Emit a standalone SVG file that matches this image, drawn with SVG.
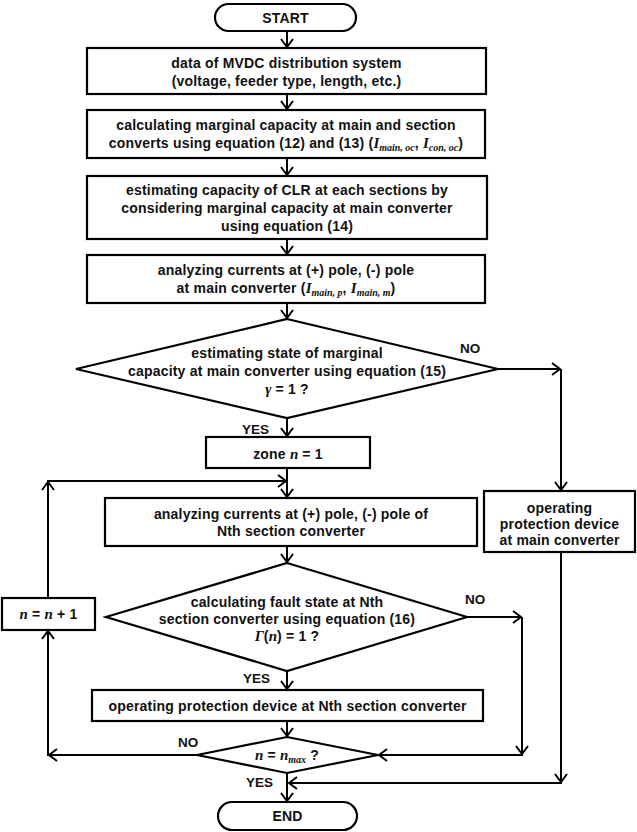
<svg xmlns="http://www.w3.org/2000/svg" width="637" height="832" viewBox="0 0 637 832">
<style>
.n{fill:#fff;stroke:#000;stroke-width:2.2}
.t{font-family:"Liberation Sans",Arial,sans-serif;font-size:14px;font-weight:bold;letter-spacing:0.2px;fill:#111;text-anchor:middle}
.m{font-family:"Liberation Serif","DejaVu Serif",serif;font-style:italic;font-weight:bold;letter-spacing:0}
.s{font-size:10px}
.l{font-family:"Liberation Sans",Arial,sans-serif;font-size:13.5px;font-weight:bold;fill:#111}
.c{fill:none;stroke:#000;stroke-width:2}
</style>
<defs>
<marker id="a" viewBox="0 0 10 14" refX="9" refY="7" markerWidth="10" markerHeight="14" markerUnits="userSpaceOnUse" orient="auto">
<path d="M1,1 L9,7 L1,13" fill="none" stroke="#000" stroke-width="2"/>
</marker>
</defs>
<rect width="637" height="832" fill="#fff"/>
<g id="connectors">
<line class="c" x1="287" y1="31" x2="287" y2="47" marker-end="url(#a)"/>
<line class="c" x1="287" y1="94" x2="287" y2="109" marker-end="url(#a)"/>
<line class="c" x1="287" y1="158" x2="287" y2="175" marker-end="url(#a)"/>
<line class="c" x1="287" y1="239" x2="287" y2="254" marker-end="url(#a)"/>
<line class="c" x1="287" y1="303" x2="287" y2="318" marker-end="url(#a)"/>
<line class="c" x1="498" y1="369" x2="560" y2="369" marker-end="url(#a)"/>
<line class="c" x1="561" y1="369" x2="561" y2="490" marker-end="url(#a)"/>
<line class="c" x1="287" y1="418" x2="287" y2="436" marker-end="url(#a)"/>
<line class="c" x1="287" y1="468" x2="287" y2="497" marker-end="url(#a)"/>
<line class="c" x1="48" y1="598" x2="48" y2="482" marker-end="url(#a)"/>
<line class="c" x1="47" y1="481" x2="286" y2="481" marker-end="url(#a)"/>
<line class="c" x1="287" y1="546" x2="287" y2="562" marker-end="url(#a)"/>
<line class="c" x1="467" y1="617" x2="521" y2="617" marker-end="url(#a)"/>
<line class="c" x1="522" y1="617" x2="522" y2="754" marker-end="url(#a)"/>
<line class="c" x1="523" y1="755" x2="379" y2="755" marker-end="url(#a)"/>
<line class="c" x1="287" y1="671" x2="287" y2="689" marker-end="url(#a)"/>
<line class="c" x1="287" y1="721" x2="287" y2="736" marker-end="url(#a)"/>
<line class="c" x1="197" y1="755" x2="49" y2="755" marker-end="url(#a)"/>
<line class="c" x1="48" y1="756" x2="48" y2="631" marker-end="url(#a)"/>
<line class="c" x1="561" y1="552" x2="561" y2="782" marker-end="url(#a)"/>
<line class="c" x1="562" y1="783" x2="289" y2="783" marker-end="url(#a)"/>
<line class="c" x1="287" y1="773" x2="287" y2="801" marker-end="url(#a)"/>
</g>
<g id="start">
<rect class="n" x="215" y="4" width="141" height="27" rx="13.5"/>
<text class="t" x="285.5" y="22.5">START</text>
</g>
<g id="box1">
<rect class="n" x="87" y="48" width="399" height="46"/>
<text class="t" x="286.5" y="68">data of MVDC distribution system</text>
<text class="t" x="286.5" y="86">(voltage, feeder type, length, etc.)</text>
</g>
<g id="box2">
<rect class="n" x="87" y="110" width="398" height="48"/>
<text class="t" x="286" y="130">calculating marginal capacity at main and section</text>
<text class="t" x="286" y="148">converts using equation (12) and (13) (<tspan class="m" font-size="15">I</tspan><tspan class="m s" dy="3">main, oc</tspan><tspan dy="-3">, </tspan><tspan class="m" font-size="15">I</tspan><tspan class="m s" dy="3">con, oc</tspan><tspan dy="-3">)</tspan></text>
</g>
<g id="box3">
<rect class="n" x="87" y="176" width="400" height="63"/>
<text class="t" x="287" y="195">estimating capacity of CLR at each sections by</text>
<text class="t" x="287" y="213">considering marginal capacity at main converter</text>
<text class="t" x="287" y="231">using equation (14)</text>
</g>
<g id="box4">
<rect class="n" x="87" y="255" width="398" height="48"/>
<text class="t" x="286" y="275">analyzing currents at (+) pole, (-) pole</text>
<text class="t" x="286" y="293">at main converter (<tspan class="m" font-size="15">I</tspan><tspan class="m s" dy="3">main, p</tspan><tspan dy="-3">, </tspan><tspan class="m" font-size="15">I</tspan><tspan class="m s" dy="3">main, m</tspan><tspan dy="-3">)</tspan></text>
</g>
<g id="decision1">
<polygon class="n" points="287,319 498,369 287,418 76,369"/>
<text class="t" x="287" y="358">estimating state of marginal</text>
<text class="t" x="287" y="376">capacity at main converter using equation (15)</text>
<text class="t" x="287" y="394"><tspan class="m" font-size="15">γ</tspan> = 1 ?</text>
<text class="l" x="460" y="353">NO</text>
<text class="l" x="242" y="434">YES</text>
</g>
<g id="zone">
<rect class="n" x="206" y="437" width="164" height="31"/>
<text class="t" x="288" y="459">zone  <tspan class="m" font-size="15">n</tspan> = 1</text>
</g>
<g id="nth">
<rect class="n" x="105" y="498" width="372" height="48"/>
<text class="t" x="291" y="519">analyzing currents at (+) pole, (-) pole of</text>
<text class="t" x="291" y="536">Nth section converter</text>
</g>
<g id="mainprot">
<rect class="n" x="484" y="491" width="151" height="61"/>
<text class="t" x="559.5" y="513">operating</text>
<text class="t" x="559.5" y="529">protection device</text>
<text class="t" x="559.5" y="545">at main converter</text>
</g>
<g id="decision2">
<polygon class="n" points="287,563 467,617 287,671 106,617"/>
<text class="t" x="287" y="607">calculating fault state at Nth</text>
<text class="t" x="287" y="624">section converter using equation (16)</text>
<text class="t" x="287" y="641"><tspan class="m" font-size="15">Γ</tspan>(<tspan class="m" font-size="15">n</tspan>) = 1 ?</text>
<text class="l" x="465" y="604">NO</text>
<text class="l" x="243" y="683">YES</text>
</g>
<g id="incr">
<rect class="n" x="2" y="598" width="93" height="32"/>
<text class="t" x="48.5" y="619"><tspan class="m" font-size="15">n</tspan> = <tspan class="m" font-size="15">n</tspan> + 1</text>
</g>
<g id="nthprot">
<rect class="n" x="92" y="690" width="391" height="31"/>
<text class="t" x="287.5" y="711">operating protection device at Nth section converter</text>
</g>
<g id="decision3">
<polygon class="n" points="287,737 378,755 287,773 197,755"/>
<text class="t" x="287" y="760"><tspan class="m" font-size="15">n</tspan> = <tspan class="m" font-size="15">n</tspan><tspan class="m s" dy="3">max</tspan><tspan dy="-3"> ?</tspan></text>
<text class="l" x="178" y="747">NO</text>
<text class="l" x="246" y="787">YES</text>
</g>
<g id="end">
<rect class="n" x="218" y="802" width="139" height="28" rx="14"/>
<text class="t" x="287.5" y="821">END</text>
</g>
</svg>
